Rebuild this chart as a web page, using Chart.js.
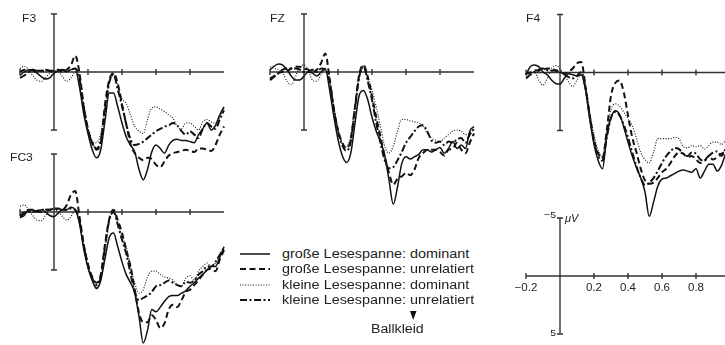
<!DOCTYPE html>
<html lang="de">
<head>
<meta charset="utf-8">
<script src="https://cdn.jsdelivr.net/npm/chart.js@4.4.1/dist/chart.umd.min.js"></script>
<style>
html, body { margin: 0; padding: 0; background: #fff; }
body { width: 725px; height: 345px; position: relative; overflow: hidden;
       font-family: "Liberation Sans", Arial, Helvetica, sans-serif; color: #222; }
canvas { position: absolute; }
.txt { position: absolute; white-space: nowrap; line-height: 1; }
</style>
</head>
<body>
<script>
// tijd in s, spanning in µV (negatief naar boven)
const tijd = [-0.2,-0.175,-0.15,-0.125,-0.1,-0.075,-0.05,-0.025,0,0.025,0.05,0.075,0.1,0.125,0.15,0.175,0.2,0.225,0.25,0.275,0.3,0.325,0.35,0.375,0.4,0.425,0.45,0.475,0.5,0.525,0.55,0.575,0.6,0.625,0.65,0.675,0.7,0.725,0.75,0.775,0.8,0.825,0.85,0.875,0.9,0.925,0.95,0.975,1.0];

const reeksNamen = ['große Lesespanne: dominant', 'große Lesespanne: unrelatiert',
                    'kleine Lesespanne: dominant', 'kleine Lesespanne: unrelatiert'];
const panelNamen = ['F3', 'FC3', 'FZ', 'F4'];
const asTicks = [-0.2, 0.2, 0.4, 0.6, 0.8];
const schaalLabels = ['\u22120.2', '0.2', '0.4', '0.6', '0.8'];
const schaalUV = [-5, 5];

const f3GrootDom   = [0.3,0.0,-0.2,-0.1,0.1,0.4,0.6,0.5,0.1,-0.1,-0.2,0.0,-0.2,-0.3, 1.3,3.6,5.3,6.7,7.4,6.7,4.2,1.8,1.8,3.0,4.4,5.6,6.3,6.9, 8.4,9.3,8.4,6.9,6.3,6.6,7.0,6.3,5.9,5.8,5.9,5.9,6.0,6.1, 5.4,4.9,4.4,5.0,4.6,3.7,3.0];
const f3GrootUnrel = [0.0,-0.2,-0.1,-0.2,-0.1,-0.1,-0.1,-0.1,-0.1,-0.2,0.0,-0.2,-0.6,-1.4, 0.1,3.0,4.9,6.1,6.7,6.1,2.8,0.7,0.1,1.0,2.8,4.5,6.2,7.0, 7.4,7.6,7.4,7.5,8.0,8.2,7.7,7.2,7.0,6.9,6.8,6.7,6.8,6.9, 6.6,6.6,6.7,6.8,6.3,5.4,4.7];
const f3KleinDom   = [-0.3,-0.5,-0.2,0.3,0.7,0.8,0.5,0.1,-0.1,0.0,0.4,0.8,0.5,0.0, 1.0,3.3,5.0,6.0,6.1,5.3,3.0,0.9,0.3,1.2,2.3,2.7,3.7,4.7, 5.1,5.3,4.1,3.1,3.0,3.2,3.4,3.7,4.0,4.7,4.9,4.4,4.4,4.7, 5.0,4.3,4.1,4.3,4.4,3.9,3.1];
const f3KleinUnrel = [0.5,0.3,0.0,-0.2,-0.1,-0.1,-0.2,-0.1,0.0,-0.1,-0.2,-0.1,-0.2,-0.3, 0.6,3.0,5.0,6.1,6.6,5.9,3.4,0.9,0.2,1.5,2.9,4.5,5.8,6.3, 6.2,6.0,5.7,5.4,5.1,4.9,4.7,4.6,4.4,4.6,5.1,5.4,5.1,5.4, 5.7,4.9,4.4,4.7,4.9,4.1,3.3];

const fc3GrootDom   = [0.5,0.3,-0.2,-0.2,0.0,-0.2,0.0,0.3,0.4,0.1,-0.2,-0.2,-0.4,-0.2, 1.0,3.2,4.8,5.9,6.6,5.9,4.0,2.2,1.8,3.0,4.3,5.4,6.1,7.0, 9.0,11.3,10.2,8.4,8.6,8.2,7.7,7.3,7.2,7.2,7.0,6.8,6.4,6.1, 5.7,5.4,5.0,4.7,4.7,3.9,3.0];
const fc3GrootUnrel = [0.4,0.1,-0.2,-0.2,-0.1,0.0,-0.2,-0.2,-0.3,-0.3,-0.2,-0.6,-1.5,-1.8, 0.4,2.8,4.5,5.6,6.1,5.4,2.8,0.6,-0.2,0.7,1.8,3.3,4.7,6.7, 8.7,9.5,9.5,8.9,9.3,10.0,9.6,8.4,8.0,8.2,7.6,6.9,6.7,6.3, 5.9,5.4,5.0,4.9,5.1,4.1,3.3];
const fc3KleinDom   = [-0.5,-0.6,-0.2,0.3,0.7,0.75,0.3,-0.2,-0.2,0.0,0.4,0.7,0.4,-0.2, 0.9,3.0,4.8,5.9,6.5,5.7,3.2,0.8,-0.1,1.0,2.1,3.0,4.7,6.1, 7.0,6.7,5.6,5.1,5.1,5.4,5.6,5.7,5.9,6.3,6.4,5.7,5.5,5.9, 5.1,4.7,4.4,4.7,4.4,3.7,3.0];
const fc3KleinUnrel = [0.35,0.05,0.0,0.0,-0.1,-0.2,-0.2,-0.2,-0.3,-0.2,-0.2,-0.2,-0.3,-0.2, 0.8,2.9,4.6,5.7,6.3,5.6,3.0,0.7,0.0,1.1,2.4,3.6,5.3,6.9, 7.6,7.4,7.2,6.9,6.4,6.3,6.1,5.9,6.1,6.3,6.4,6.0,6.1,5.9, 5.4,5.1,4.7,4.7,4.3,3.7,3.1];

const fzGrootDom   = [-0.2,-0.5,-0.7,-0.6,-0.2,0.35,0.7,0.7,0.35,0.0,0.1,0.35,0.0,-0.3, 1.5,3.8,5.8,7.2,7.8,7.0,4.4,2.0,1.6,2.4,3.9,5.1,6.0,7.2, 9.3,11.4,9.9,7.9,7.3,7.5,7.3,7.1,6.7,6.7,6.9,6.7,6.5,7.0, 6.6,6.0,6.6,6.3,6.6,5.1,4.7];
const fzGrootUnrel = [0.55,0.35,0.05,0.0,-0.1,-0.3,-0.45,-0.45,-0.3,-0.2,0.0,-0.2,-0.75,-1.6, 0.5,3.2,5.0,6.1,6.6,5.8,3.0,0.2,-0.6,0.4,2.1,3.9,5.6,7.3, 8.7,9.7,9.2,9.0,8.7,8.9,8.4,7.4,7.0,6.7,6.7,6.7,6.9,7.2, 6.7,6.6,6.1,6.7,7.0,6.1,5.3];
const fzKleinDom   = [-0.45,-0.3,-0.2,0.1,0.8,1.1,0.4,-0.45,-0.6,-0.2,0.7,0.8,0.25,-0.2, 0.8,3.0,5.0,6.2,6.4,5.5,2.8,0.4,-0.3,0.5,1.55,3.0,4.7,6.4, 7.0,6.4,5.1,4.1,4.1,4.2,4.3,4.4,4.6,5.3,5.7,5.9,6.0,5.7, 5.4,5.1,5.0,5.1,5.4,5.3,4.9];
const fzKleinUnrel = [0.7,0.4,0.1,-0.2,-0.3,-0.3,-0.3,-0.2,0.0,0.0,-0.2,0.0,-0.3,-0.2, 0.7,3.1,5.1,6.3,6.8,6.0,3.2,0.4,-0.5,0.8,2.4,4.4,6.1,7.6, 8.3,8.2,7.6,6.9,6.1,5.6,5.1,4.7,4.6,5.1,5.9,6.1,6.0,6.3, 6.0,6.1,5.8,5.7,6.1,5.4,4.9];

const f4GrootDom   = [0.2,-0.5,-0.65,-0.5,-0.05,0.2,0.65,0.95,1.0,0.5,0.1,0.2,0.3,0.2, 1.5,4.0,6.2,7.6,8.3,5.5,3.9,3.3,3.6,4.7,6.0,7.2,8.2,9.1, 10.3,12.4,11.2,9.8,9.2,9.1,8.9,8.7,8.5,8.4,8.5,8.6,8.3,9.1, 8.5,7.9,7.9,8.5,8.0,7.0,6.5];
const f4GrootUnrel = [0.1,0.0,-0.2,-0.15,-0.25,-0.35,-0.35,-0.15,-0.05,0.1,-0.05,-0.35,-0.8,-0.9, 1.2,3.7,5.8,7.0,7.4,5.0,2.0,0.9,0.7,1.7,3.7,5.6,6.9,8.3, 9.3,9.6,9.5,9.1,8.6,8.3,7.8,7.2,6.9,7.0,7.3,7.2,7.5,7.8, 7.6,7.2,7.5,7.3,7.0,6.8,6.6];
const f4KleinDom   = [0.2,0.2,-0.05,0.65,1.1,0.5,-0.35,-0.6,-0.35,0.2,0.8,1.2,0.65,0.2, 1.4,3.5,5.4,6.7,7.3,5.0,3.2,2.7,2.9,3.4,4.0,4.6,5.7,6.9, 7.5,7.8,6.9,5.7,5.7,5.7,5.7,5.6,5.7,6.4,6.5,6.3,6.4,6.3, 6.6,6.3,6.0,6.0,6.2,5.9,5.8];
const f4KleinUnrel = [0.5,0.2,-0.05,-0.25,-0.35,-0.2,-0.15,-0.2,-0.05,0.15,0.4,0.5,0.3,-0.05, 1.3,3.8,5.9,7.2,7.6,5.6,3.9,3.4,3.7,4.5,5.6,6.9,8.1,9.1, 9.7,9.5,9.1,8.5,7.8,7.2,6.8,6.5,6.6,7.0,7.2,6.9,7.0,7.5, 7.6,7.2,6.9,6.8,7.2,6.6,6.4];

// opmaak
const PX_S = 170, PX_UV = 11.6;
const lijnStijlen = [
    { borderWidth: 1.5, borderDash: [] },
    { borderWidth: 2.0, borderDash: [6, 3.5] },
    { borderWidth: 1.1, borderDash: [1, 1.6] },
    { borderWidth: 2.0, borderDash: [7, 2.5, 2, 2.5] }
];
const ASKLEUR = '#333';

const erpAssen = {
    id: 'erpAssen',
    beforeDatasetsDraw(chart, args, opts) {
        const { ctx, scales: { x, y } } = chart;
        const x0 = x.getPixelForValue(0), y0 = y.getPixelForValue(0);
        const yBoven = y.getPixelForValue(schaalUV[0]), yOnder = y.getPixelForValue(schaalUV[1]);
        ctx.save();
        ctx.strokeStyle = ASKLEUR;
        ctx.lineWidth = 1.4;
        ctx.beginPath();
        ctx.moveTo(x0, yBoven); ctx.lineTo(x0, yOnder);
        ctx.moveTo(x0 - 3, yBoven); ctx.lineTo(x0 + 3, yBoven);
        ctx.moveTo(x0 - 3, yOnder); ctx.lineTo(x0 + 3, yOnder);
        ctx.moveTo(x.getPixelForValue(-0.2), y0); ctx.lineTo(x.getPixelForValue(opts.xEinde), y0);
        asTicks.forEach(t => {
            const px = x.getPixelForValue(t);
            ctx.moveTo(px, y0 - 3); ctx.lineTo(px, y0 + 3);
        });
        ctx.stroke();
        ctx.restore();
    }
};

function tekst(str, x, y, opts = {}) {
    const d = document.createElement('div');
    d.className = 'txt';
    d.textContent = str;
    d.style.left = x + 'px';
    d.style.top = y + 'px';
    d.style.fontSize = (opts.size || 12) + 'px';
    const sx = opts.sx || 1.2;
    const align = opts.align || 'left';
    if (align === 'left') { d.style.transformOrigin = '0 0'; d.style.transform = `translateY(-50%) scaleX(${sx})`; }
    if (align === 'center') { d.style.transformOrigin = '50% 50%'; d.style.transform = `translate(-50%,-50%) scaleX(${sx})`; }
    if (align === 'right') { d.style.transformOrigin = '100% 50%'; d.style.transform = `translate(-100%,-50%) scaleX(${sx})`; }
    if (opts.italic) d.style.fontStyle = 'italic';
    document.body.appendChild(d);
    return d;
}

function maakPaneel(ox, oy, reeksen, xEinde) {
    const XMIN = -0.24, XMAX = 1.04, YMIN = -6.3, YMAX = 13.6;
    const links = Math.floor(ox + XMIN * PX_S), boven = Math.floor(oy + YMIN * PX_UV);
    const breed = Math.ceil((XMAX - XMIN) * PX_S), hoog = Math.ceil((YMAX - YMIN) * PX_UV);
    const cv = document.createElement('canvas');
    cv.width = breed; cv.height = hoog;
    cv.style.left = links + 'px'; cv.style.top = boven + 'px';
    document.body.appendChild(cv);
    const xmin = (links - ox) / PX_S, xmax = xmin + breed / PX_S;
    const ymin = (boven - oy) / PX_UV, ymax = ymin + hoog / PX_UV;
    return new Chart(cv, {
        type: 'line',
        data: {
            datasets: reeksen.map((arr, i) => ({
                label: reeksNamen[i],
                data: arr.map((v, k) => ({ x: tijd[k], y: v })),
                borderColor: '#111',
                borderWidth: lijnStijlen[i].borderWidth,
                borderDash: lijnStijlen[i].borderDash,
                pointRadius: 0,
                cubicInterpolationMode: 'monotone',
                fill: false
            }))
        },
        options: {
            responsive: false, animation: false, events: [],
            layout: { padding: 0 },
            plugins: { legend: { display: false }, tooltip: { enabled: false }, erpAssen: { xEinde } },
            scales: {
                x: { type: 'linear', display: false, min: xmin, max: xmax },
                y: { type: 'linear', display: false, reverse: true, min: ymin, max: ymax }
            }
        },
        plugins: [erpAssen]
    });
}

maakPaneel(54, 72, [f3GrootDom, f3GrootUnrel, f3KleinDom, f3KleinUnrel], 1.0);
maakPaneel(54, 212, [fc3GrootDom, fc3GrootUnrel, fc3KleinDom, fc3KleinUnrel], 1.0);
maakPaneel(304, 72, [fzGrootDom, fzGrootUnrel, fzKleinDom, fzKleinUnrel], 1.0);
maakPaneel(560, 72.5, [f4GrootDom, f4GrootUnrel, f4KleinDom, f4KleinUnrel], 1.05);
// schaal-paneel
maakPaneel(560, 276, [], 1.05);

tekst(panelNamen[0], 22, 19, { size: 11.5, sx: 1.05 });
tekst(panelNamen[1], 10, 158, { size: 11.5, sx: 1.05 });
tekst(panelNamen[2], 270, 19, { size: 11.5, sx: 1.05 });
tekst(panelNamen[3], 526, 19, { size: 11.5, sx: 1.05 });

// schaal-labels
asTicks.forEach((t, i) => tekst(schaalLabels[i], 560 + t * PX_S, 288, { align: 'center', size: 10, sx: 1.15 }));
tekst('\u22125', 556, 215, { align: 'right', size: 9.5, sx: 1.1 });
tekst('5', 556, 333, { align: 'right', size: 9.5, sx: 1.1 });
tekst('\u03bcV', 565, 219, { size: 10, sx: 1.1, italic: true });

// legende
const legY = [253.5, 269, 284.5, 300];
reeksNamen.forEach((naam, i) => {
    const s = lijnStijlen[i];
    const svg = document.createElementNS('http://www.w3.org/2000/svg', 'svg');
    svg.setAttribute('width', 32); svg.setAttribute('height', 6);
    svg.style.position = 'absolute'; svg.style.left = '239px'; svg.style.top = (legY[i] - 3) + 'px';
    const ln = document.createElementNS('http://www.w3.org/2000/svg', 'line');
    ln.setAttribute('x1', 1); ln.setAttribute('x2', 31); ln.setAttribute('y1', 3); ln.setAttribute('y2', 3);
    ln.setAttribute('stroke', '#111'); ln.setAttribute('stroke-width', s.borderWidth);
    if (s.borderDash.length) ln.setAttribute('stroke-dasharray', s.borderDash.join(' '));
    svg.appendChild(ln);
    document.body.appendChild(svg);
    tekst(naam, 282, legY[i], { size: 12, sx: 1.2 });
});

// Ballkleid-markering
const mk = document.createElementNS('http://www.w3.org/2000/svg', 'svg');
mk.setAttribute('width', 10); mk.setAttribute('height', 10);
mk.style.position = 'absolute'; mk.style.left = '408px'; mk.style.top = '311px';
const tri = document.createElementNS('http://www.w3.org/2000/svg', 'polygon');
tri.setAttribute('points', '2,0 8.5,0 5.2,9');
tri.setAttribute('fill', '#111');
mk.appendChild(tri);
document.body.appendChild(mk);
tekst('Ballkleid', 371, 328.5, { size: 12, sx: 1.18 });
</script>
</body>
</html>
